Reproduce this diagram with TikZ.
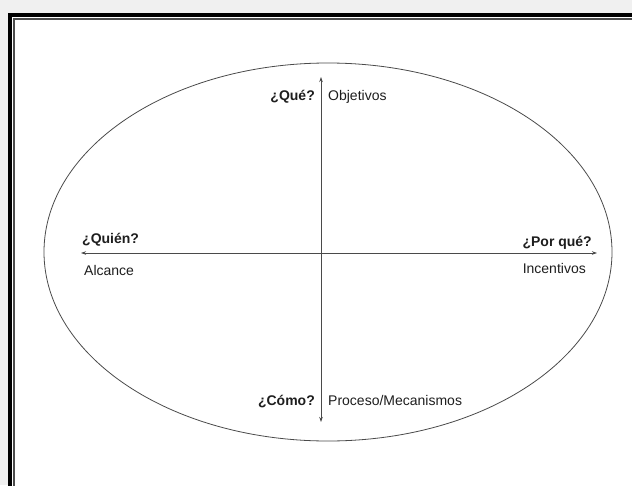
\documentclass[tikz,border=0pt]{standalone}
\usepackage{fontspec}
\setmainfont{Liberation Sans}
\usetikzlibrary{arrows.meta}
\definecolor{bggray}{HTML}{F0F0F0}
\definecolor{linegray}{HTML}{4A4A4A}
\definecolor{txt}{HTML}{1E1E1E}
\begin{document}
\begin{tikzpicture}[x=1pt,y=-1pt,
  lbl/.style={inner sep=0pt, text=txt, font=\fontsize{14}{16}\selectfont},
  qlbl/.style={lbl, font=\fontsize{14}{16}\selectfont\bfseries},
  axis/.style={draw=linegray, line width=0.8pt, {Stealth[length=5pt,width=3.5pt]}-{Stealth[length=5pt,width=3.5pt]}}]
\useasboundingbox (0,0) rectangle (632,485);
\begin{scope}
\clip (0,0) rectangle (632,485);
\fill[bggray] (0,0) rectangle (632,485);
\fill[white] (10,15) rectangle (700,560);
\draw[black, line width=4pt] (10,15) -- (10,560);
\draw[black, line width=4pt] (8,15) -- (700,15);
\draw[black!70, line width=1.2pt] (14,560) -- (14,19) -- (700,19);
\end{scope}
% ellipse
\draw[linegray, line width=0.8pt] (328,252) ellipse [x radius=284, y radius=189];
% axes
\coordinate (top) at (321,77);
\coordinate (bot) at (321,422);
\coordinate (lft) at (81,253);
\coordinate (rgt) at (597,253);
\draw[axis] (bot) -- (top);
\draw[axis] (lft) -- (rgt);
% labels
\node[qlbl, anchor=east] (que) at (315,97) {¿Qué?};
\node[lbl, anchor=west] (obj) at (328,97) {Objetivos};
\node[qlbl, anchor=west] (quien) at (82,240) {¿Quién?};
\node[lbl, anchor=west] (alc) at (84,270) {Alcance};
\node[qlbl, anchor=east] (porque) at (592,243) {¿Por qué?};
\node[lbl, anchor=east] (inc) at (586,268) {Incentivos};
\node[qlbl, anchor=east] (como) at (315,402) {¿Cómo?};
\node[lbl, anchor=west] (proc) at (328,400) {Proceso/Mecanismos};
\end{tikzpicture}
\end{document}
